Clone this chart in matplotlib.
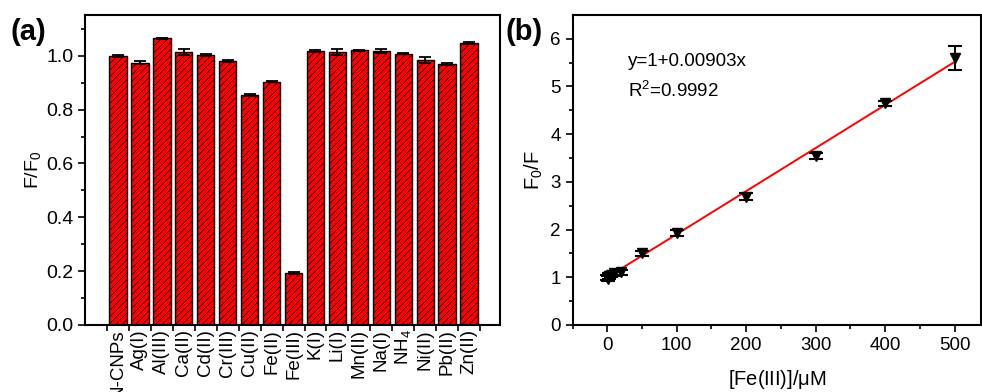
import numpy as np
import matplotlib.pyplot as plt

plt.rcParams['font.family'] = ['Liberation Sans', 'DejaVu Sans']
plt.rcParams['hatch.linewidth'] = 0.5
plt.rcParams['hatch.color'] = '#6a0000'
plt.rcParams['mathtext.fontset'] = 'custom'
plt.rcParams['mathtext.rm'] = 'Liberation Sans'
plt.rcParams['mathtext.it'] = 'Liberation Sans'

# panel (a) data
ions = ['N-CNPs', 'Ag(I)', 'Al(III)', 'Ca(II)', 'Cd(II)', 'Cr(III)', 'Cu(II)',
        'Fe(II)', 'Fe(III)', 'K(I)', 'Li(I)', 'Mn(II)', 'Na(I)', 'NH$_4$',
        'Ni(II)', 'Pb(II)', 'Zn(II)']
ratio = [0.999, 0.975, 1.065, 1.015, 1.003, 0.981, 0.855, 0.903, 0.193,
         1.019, 1.014, 1.020, 1.019, 1.007, 0.984, 0.969, 1.048]
ratio_err = [0.003, 0.006, 0.003, 0.012, 0.005, 0.004, 0.004, 0.002, 0.003,
             0.004, 0.011, 0.003, 0.008, 0.002, 0.010, 0.003, 0.004]

# panel (b) data
conc = [0, 1, 2, 5, 10, 20, 50, 100, 200, 300, 400, 500]
quench = [1.0, 0.97, 1.02, 1.05, 1.08, 1.1, 1.5, 1.93, 2.69, 3.54, 4.65, 5.6]
quench_err = [0.05, 0.05, 0.05, 0.05, 0.05, 0.05, 0.06, 0.06, 0.07, 0.07, 0.05, 0.25]
slope, icpt = 0.00903, 1.0
fit_x = [15, 500]

fig = plt.figure(figsize=(9.82, 3.92), dpi=100)
ax1 = fig.add_axes([0.0866, 0.171, 0.4224, 0.791])
ax2 = fig.add_axes([0.583, 0.171, 0.416, 0.791])

x = np.arange(len(ions))
ax1.bar(x, ratio, width=0.79, color='#ff0000', edgecolor='black', linewidth=1,
        hatch='/////')
ax1.errorbar(x, ratio, yerr=ratio_err, fmt='none', ecolor='black', elinewidth=1.3,
             capsize=4.5, capthick=1.3)
ax1.set_xlim(-1.5, 17.4)
ax1.set_ylim(0, 1.152)
ax1.set_yticks(np.arange(0, 1.01, 0.2))
ax1.set_yticks(np.arange(0.1, 1.15, 0.2), minor=True)
ax1.set_yticklabels(['0.0', '0.2', '0.4', '0.6', '0.8', '1.0'])
ax1.set_xticks(x)
ax1.set_xticklabels(ions, rotation=90, fontsize=13.5)
ax1.set_xticks(np.arange(-0.5, 17, 1), minor=True)
ax1.tick_params(axis='x', which='major', length=0, pad=3)
ax1.tick_params(axis='x', which='minor', length=4, width=1.2, direction='out')
ax1.tick_params(axis='y', which='major', length=5, width=1.2, direction='out', labelsize=14)
ax1.tick_params(axis='y', which='minor', length=3, width=1.2, direction='out')
ax1.set_ylabel('F/F$_0$', fontsize=14, labelpad=2)
for s in ax1.spines.values():
    s.set_linewidth(1.5)
fig.text(0.011, 0.898, '(a)', fontsize=21, fontweight='bold')

ax2.plot(fit_x, [icpt + slope * v for v in fit_x], color='red', lw=1.4, zorder=2)
ax2.errorbar(conc, quench, yerr=quench_err, fmt='v', color='black', ms=7,
             ecolor='black', elinewidth=1.5, capsize=5, capthick=1.5, zorder=3)
ax2.set_xlim(-50, 538)
ax2.set_ylim(0, 6.5)
ax2.set_xticks(range(0, 501, 100))
ax2.set_xticks(range(-50, 540, 50), minor=True)
ax2.set_yticks(range(0, 7))
ax2.set_yticks(np.arange(0.5, 6.5, 1), minor=True)
ax2.tick_params(which='major', length=5, width=1.2, direction='out', labelsize=13.5)
ax2.tick_params(which='minor', length=3, width=1.2, direction='out')
ax2.set_xlabel('[Fe(III)]/$\\mu$M', fontsize=14.5, labelpad=10)
ax2.set_ylabel('F$_0$/F', fontsize=14.5, labelpad=4)
for s in ax2.spines.values():
    s.set_linewidth(1.5)
ax2.text(0.135, 0.85, 'y=1+0.00903x', transform=ax2.transAxes, fontsize=13.5, va='center')
ax2.text(0.135, 0.755, 'R$^2$=0.9992', transform=ax2.transAxes, fontsize=13.5, va='center')
fig.text(0.515, 0.898, '(b)', fontsize=21, fontweight='bold')

fig.savefig('out.png', dpi=100)
